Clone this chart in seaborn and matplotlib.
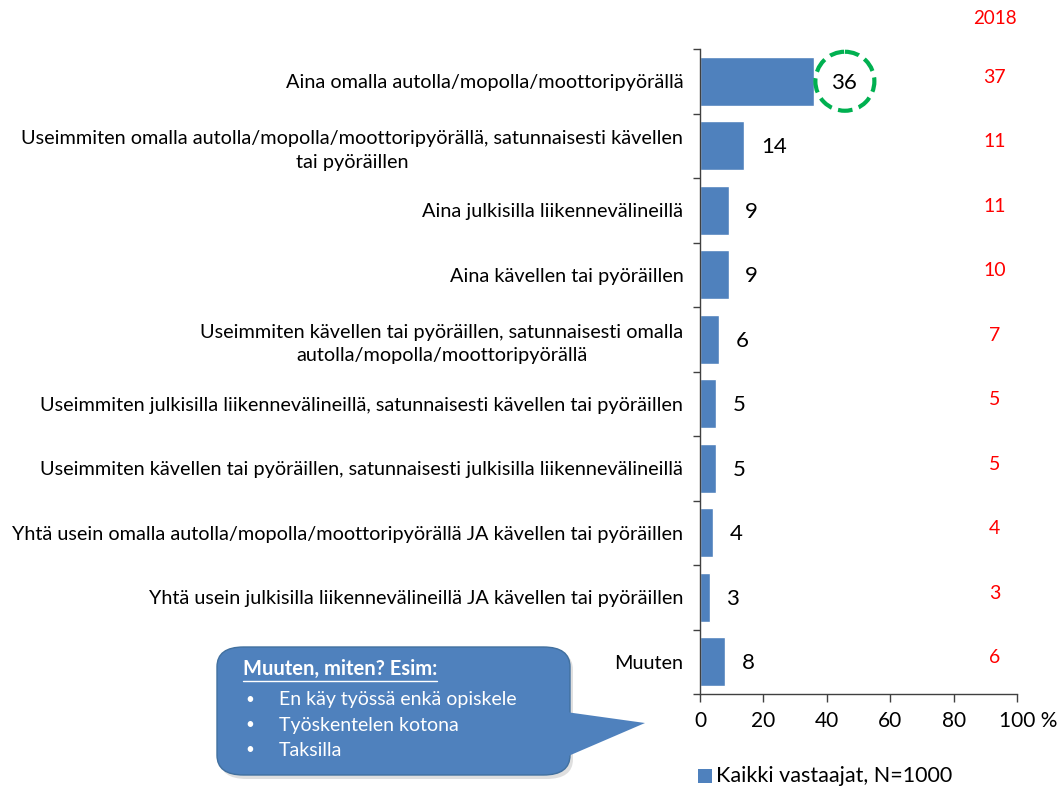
import matplotlib
matplotlib.use("Agg")
import matplotlib.pyplot as plt
import matplotlib.transforms as mtransforms
import seaborn as sns
import pandas as pd
from matplotlib.patches import Ellipse, FancyBboxPatch, Polygon, Rectangle

categories = [
    "Aina omalla autolla/mopolla/moottoripyörällä",
    "Useimmiten omalla autolla/mopolla/moottoripyörällä, satunnaisesti kävellen\ntai pyöräillen",
    "Aina julkisilla liikennevälineillä",
    "Aina kävellen tai pyöräillen",
    "Useimmiten kävellen tai pyöräillen, satunnaisesti omalla\nautolla/mopolla/moottoripyörällä",
    "Useimmiten julkisilla liikennevälineillä, satunnaisesti kävellen tai pyöräillen",
    "Useimmiten kävellen tai pyöräillen, satunnaisesti julkisilla liikennevälineillä",
    "Yhtä usein omalla autolla/mopolla/moottoripyörällä JA kävellen tai pyöräillen",
    "Yhtä usein julkisilla liikennevälineillä JA kävellen tai pyöräillen",
    "Muuten",
]
values_all = [36, 14, 9, 9, 6, 5, 5, 4, 3, 8]
values_2018 = [37, 11, 11, 10, 7, 5, 5, 4, 3, 6]
x_ticks = [0, 20, 40, 60, 80, 100]
x_tick_labels = ["0", "20", "40", "60", "80", "100 %"]
legend_label = "Kaikki vastaajat, N=1000"
callout_title = "Muuten, miten? Esim:"
callout_items = ["En käy työssä enkä opiskele", "Työskentelen kotona", "Taksilla"]

BLUE = "#4F81BD"
W, H = 1061, 789

sns.set_theme(style="white")
plt.rcParams["font.family"] = ["Lato", "DejaVu Sans"]

df = pd.DataFrame({"category": categories, "value": values_all})

fig = plt.figure(figsize=(W / 100, H / 100), dpi=100)
ax = fig.add_axes([700 / W, 1 - 694 / H, 317 / W, 645 / H])

sns.barplot(data=df, x="value", y="category", orient="h", color=BLUE,
            saturation=1, width=0.76, ax=ax)

ax.set_xlim(0, 100)
ax.set_ylim(len(categories) - 0.5, -0.5)
ax.set_xlabel("")
ax.set_ylabel("")
ax.set_xticks(x_ticks)
ax.set_xticklabels(x_tick_labels, fontsize=15, color="black")
ax.tick_params(axis="x", direction="out", length=6, width=1, color="#404040", pad=6, bottom=True)
# keep "100" centred on its tick, with the % sign hanging to the right
last = ax.get_xticklabels()[-1]
last.set_transform(last.get_transform() + mtransforms.ScaledTranslation(11 / 100, 0, fig.dpi_scale_trans))
ax.set_yticks(range(len(categories)))
ax.set_yticklabels(categories, fontsize=14.3, color="black", multialignment="center",
                   linespacing=1.45)
ax.tick_params(axis="y", length=0, pad=12)
ax.set_yticks([i - 0.5 for i in range(len(categories) + 1)], minor=True)
ax.tick_params(axis="y", which="minor", direction="out", length=5, width=1, color="#404040", left=True)
for s in ["top", "right"]:
    ax.spines[s].set_visible(False)
for s in ["left", "bottom"]:
    ax.spines[s].set_color("#404040")
    ax.spines[s].set_linewidth(1)
ax.grid(False)

for i, v in enumerate(values_all):
    ax.annotate(str(v), (v, i), xytext=(12, -1), textcoords="offset points",
                ha="left", va="center", fontsize=16, color="black")
    ax.annotate(str(values_2018[i]), (93, i), xytext=(0, 3), textcoords="offset points",
                ha="center", va="center", fontsize=14, color="#FF0000", annotation_clip=False)

fig.text(995 / W, 1 - 18 / H, "2018", ha="center", va="center", fontsize=13.5, color="#FF0000")

# dashed circle around the top value
ax.add_patch(Ellipse((45.7, 0), 59 / 3.17, 59 / 64.5, fill=False, edgecolor="#00B050",
                     linewidth=3, linestyle=(0, (3.5, 1.6)), clip_on=False))

# callout bubble
tf = fig.transFigure
def fx(px):
    return px / W
def fy(py):
    return 1 - py / H

shadow = FancyBboxPatch((fx(220), fy(779)), fx(573) - fx(220), fy(650) - fy(779),
                        boxstyle="round,pad=0,rounding_size=0.025", transform=tf,
                        facecolor="#c0c0c0", edgecolor="none", alpha=0.5)
fig.patches.append(shadow)
box = FancyBboxPatch((fx(217), fy(775)), fx(570) - fx(217), fy(647) - fy(775),
                     boxstyle="round,pad=0,rounding_size=0.025", transform=tf,
                     facecolor=BLUE, edgecolor="#41709f", linewidth=1)
fig.patches.append(box)
tip = Polygon([(fx(566), fy(712)), (fx(645), fy(723)), (fx(566), fy(757))],
              closed=True, transform=tf, facecolor=BLUE, edgecolor="none")
fig.patches.append(tip)

fig.text(fx(243), fy(669), callout_title, fontsize=14.5, color="white",
         fontweight="bold", ha="left", va="center")
fig.add_artist(plt.Line2D([fx(243), fx(437)], [fy(681), fy(681)], transform=tf,
                          color="white", linewidth=1))
for k, item in enumerate(callout_items):
    y = fy(700 + 25 * k)
    fig.text(fx(245), y, "•", fontsize=11, color="white", ha="left", va="center")
    fig.text(fx(279), y, item, fontsize=14, color="white", ha="left", va="center")

# legend
fig.patches.append(Rectangle((fx(698), fy(783)), 14 / W, 14 / H, transform=tf,
                             facecolor=BLUE, edgecolor="none"))
fig.text(fx(716), fy(776), legend_label, fontsize=15.5, color="black", ha="left", va="center")

fig.savefig("out.png", dpi=100)
